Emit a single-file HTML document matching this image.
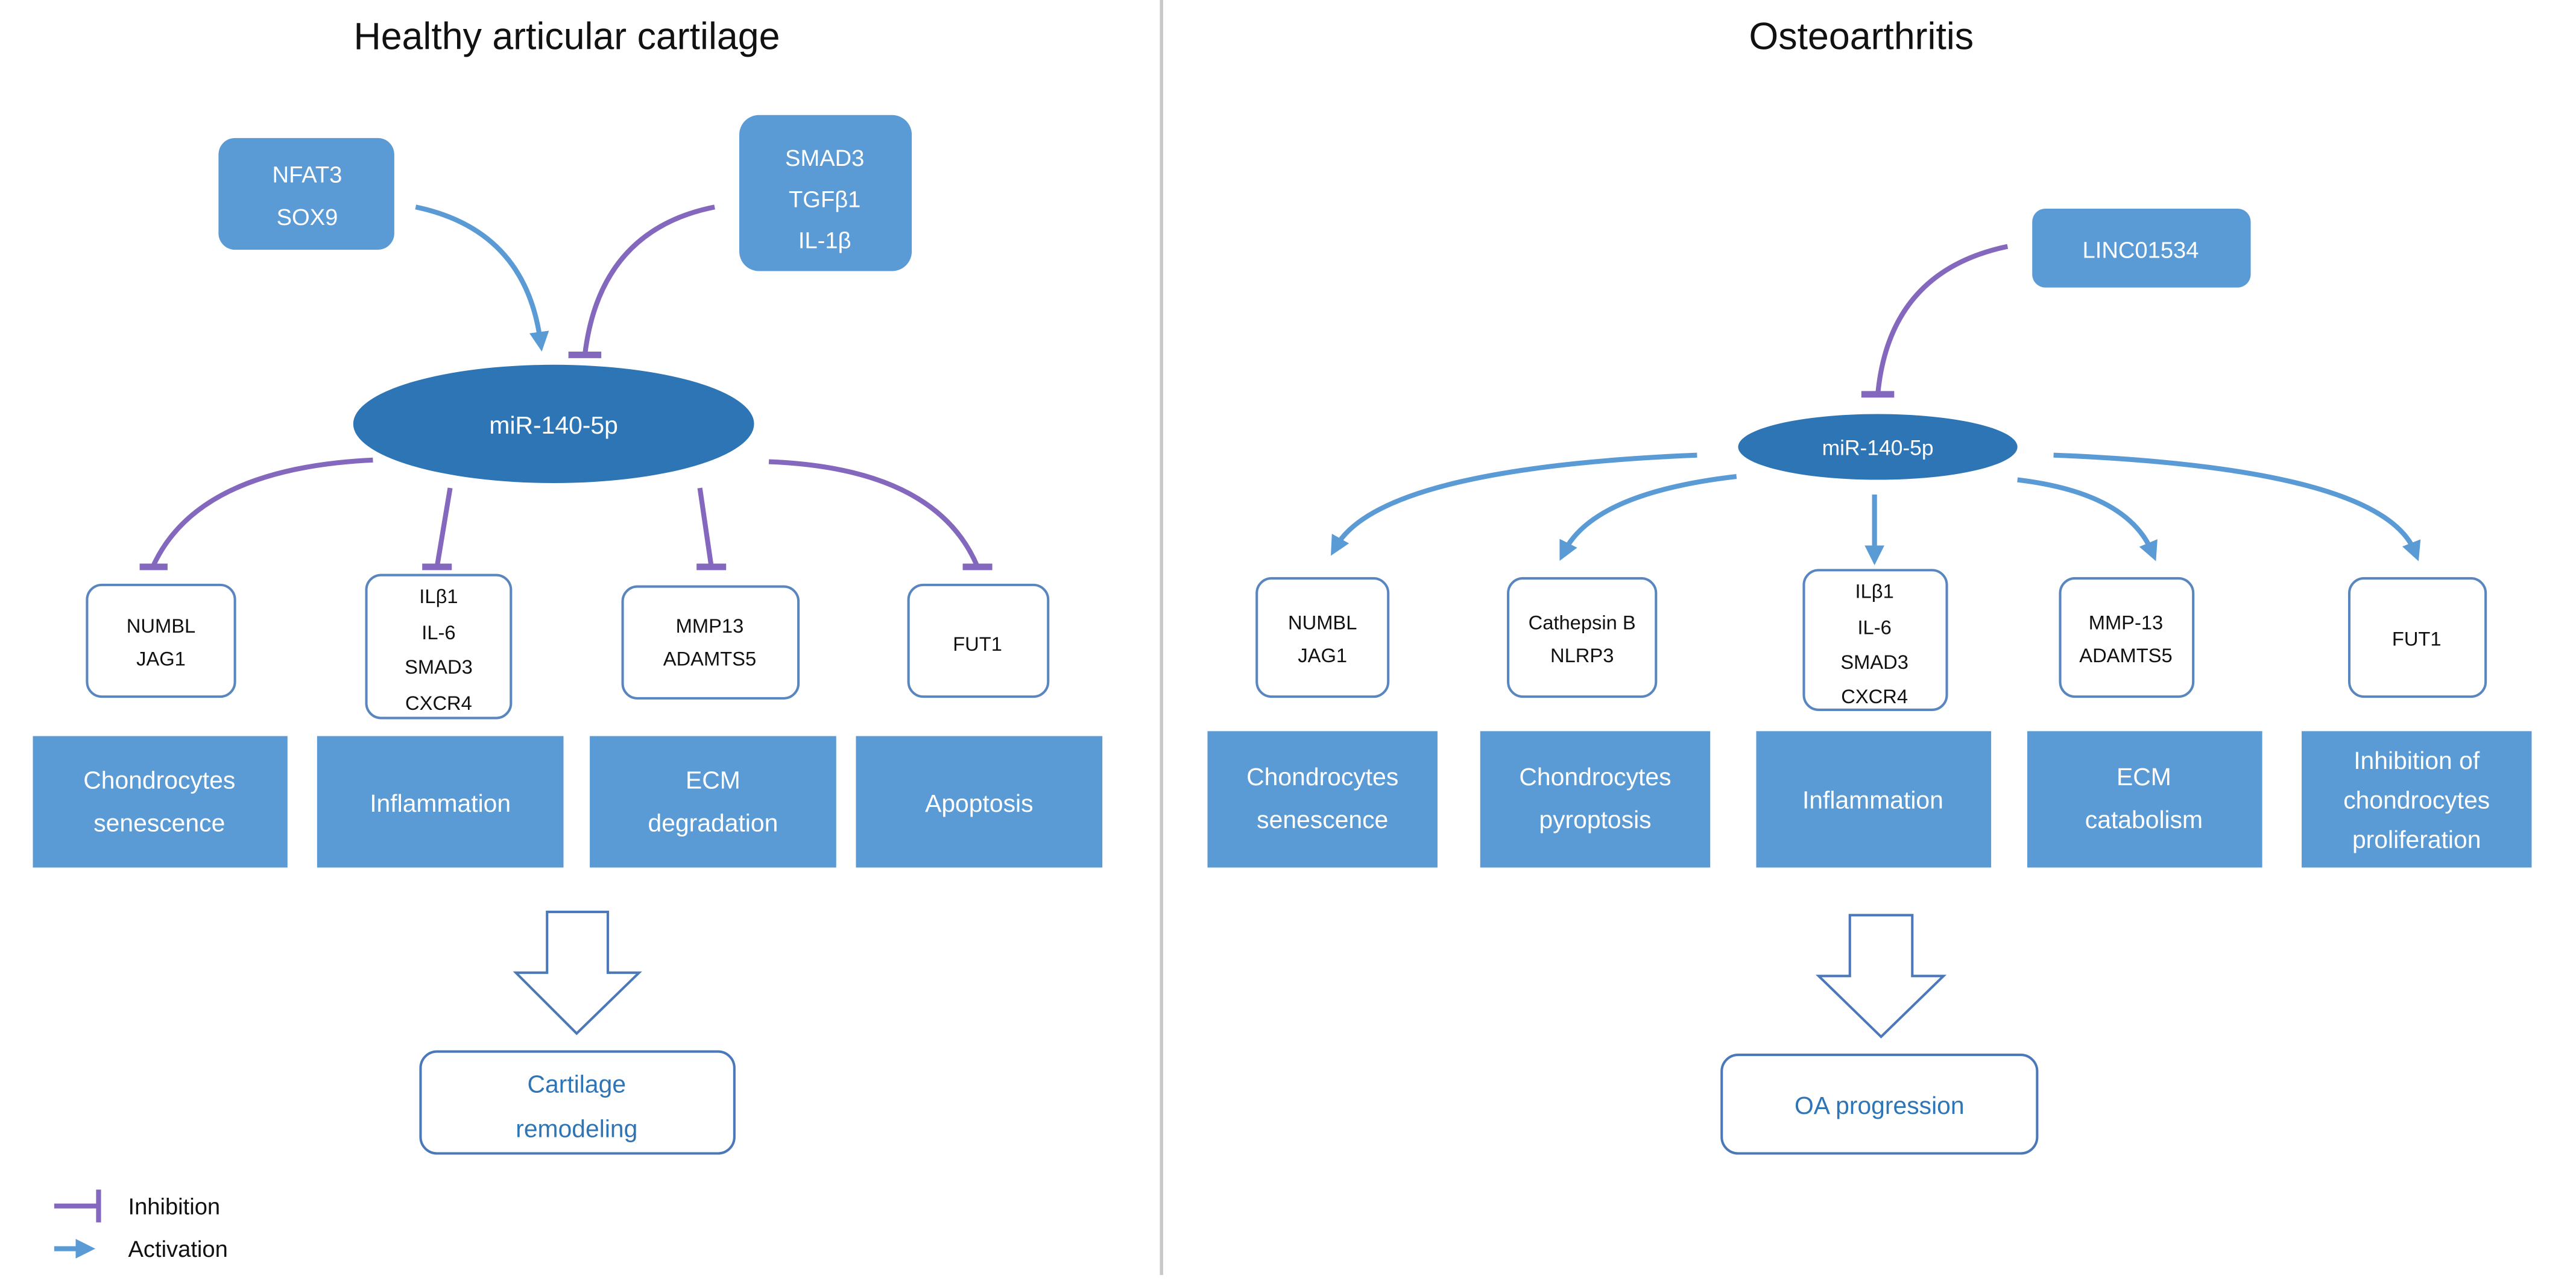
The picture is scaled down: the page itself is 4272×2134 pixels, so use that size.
<!DOCTYPE html>
<html><head><meta charset="utf-8"><style>
html,body{margin:0;padding:0;background:#fff;}
svg{display:block;}
text{font-family:"Liberation Sans",sans-serif;}
</style></head><body>
<svg width="4272" height="2134" viewBox="0 0 1568 783.3" preserveAspectRatio="none" xmlns="http://www.w3.org/2000/svg">
<defs>
<marker id="ab" viewBox="0 0 10 10" refX="5" refY="5" markerWidth="4" markerHeight="4" orient="auto"><path d="M0,0 L10,5 L0,10 z" fill="#5b9bd5"/></marker>
</defs>
<rect width="1568" height="783.3" fill="#fff"/>
<line x1="707" y1="0" x2="707" y2="776" stroke="#c8c8c8" stroke-width="2"/>
<text x="345" y="30" font-size="23" text-anchor="middle" fill="#111">Healthy articular cartilage</text>
<text x="1133" y="30" font-size="23" text-anchor="middle" fill="#111">Osteoarthritis</text>

<rect x="133" y="84" width="107" height="68" rx="10" fill="#5b9bd5"/>
<text x="187" y="111" font-size="14" fill="#fff" text-anchor="middle">NFAT3</text>
<text x="187" y="137" font-size="14" fill="#fff" text-anchor="middle">SOX9</text>
<rect x="450" y="70" width="105" height="95" rx="12" fill="#5b9bd5"/>
<text x="502" y="101" font-size="14" fill="#fff" text-anchor="middle">SMAD3</text>
<text x="502" y="126" font-size="14" fill="#fff" text-anchor="middle">TGFβ1</text>
<text x="502" y="151" font-size="14" fill="#fff" text-anchor="middle">IL-1β</text>

<g fill="none" stroke-width="3">
<path d="M253,126 Q320,140 329,208" stroke="#5b9bd5" marker-end="url(#ab)"/>
<path d="M435,126 Q365,140 356,216" stroke="#8468be"/>
<line x1="346" y1="216" x2="366" y2="216" stroke="#8468be" stroke-width="4"/>
</g>
<ellipse cx="337" cy="258" rx="122" ry="36" fill="#2e75b6"/>
<text x="337" y="264" font-size="15" fill="#fff" text-anchor="middle">miR-140-5p</text>

<g fill="none" stroke="#8468be" stroke-width="3">
<path d="M227,280 Q120,285 93,345"/>
<line x1="85" y1="345" x2="102" y2="345" stroke-width="4"/>
<path d="M274,297 L266,345"/>
<line x1="257" y1="345" x2="275" y2="345" stroke-width="4"/>
<path d="M426,297 L433,345"/>
<line x1="424" y1="345" x2="442" y2="345" stroke-width="4"/>
<path d="M468,281 Q570,285 595,345"/>
<line x1="586" y1="345" x2="604" y2="345" stroke-width="4"/>
</g>

<g fill="#fff" stroke="#5a86c0" stroke-width="1.5">
<rect x="53" y="356" width="90" height="68" rx="9"/>
<rect x="223" y="350" width="88" height="87" rx="9"/>
<rect x="379" y="357" width="107" height="68" rx="9"/>
<rect x="553" y="356" width="85" height="68" rx="9"/>
</g>
<g font-size="12" fill="#111" text-anchor="middle">
<text x="98" y="385">NUMBL</text><text x="98" y="405">JAG1</text>
<text x="267" y="367">ILβ1</text><text x="267" y="389">IL-6</text><text x="267" y="410">SMAD3</text><text x="267" y="432">CXCR4</text>
<text x="432" y="385">MMP13</text><text x="432" y="405">ADAMTS5</text>
<text x="595" y="396">FUT1</text>
</g>

<g fill="#5b9bd5">
<rect x="20" y="448" width="155" height="80"/>
<rect x="193" y="448" width="150" height="80"/>
<rect x="359" y="448" width="150" height="80"/>
<rect x="521" y="448" width="150" height="80"/>
<rect x="735" y="445" width="140" height="83"/>
<rect x="901" y="445" width="140" height="83"/>
<rect x="1069" y="445" width="143" height="83"/>
<rect x="1234" y="445" width="143" height="83"/>
<rect x="1401" y="445" width="140" height="83"/>
</g>
<g font-size="15" fill="#fff" text-anchor="middle">
<text x="97" y="480">Chondrocytes</text><text x="97" y="506">senescence</text>
<text x="268" y="494">Inflammation</text>
<text x="434" y="480">ECM</text><text x="434" y="506">degradation</text>
<text x="596" y="494">Apoptosis</text>
<text x="805" y="478">Chondrocytes</text><text x="805" y="504">senescence</text>
<text x="971" y="478">Chondrocytes</text><text x="971" y="504">pyroptosis</text>
<text x="1140" y="492">Inflammation</text>
<text x="1305" y="478">ECM</text><text x="1305" y="504">catabolism</text>
<text x="1471" y="468">Inhibition of</text><text x="1471" y="492">chondrocytes</text><text x="1471" y="516">proliferation</text>
</g>

<path d="M333,555 L370,555 L370,592 L389,592 L351,629 L314,592 L333,592 Z" fill="#fff" stroke="#4a78b8" stroke-width="1.5"/>
<rect x="256" y="640" width="191" height="62" rx="10" fill="#fff" stroke="#4a78b8" stroke-width="1.5"/>
<text x="351" y="665" font-size="15" fill="#2e75b6" text-anchor="middle">Cartilage</text>
<text x="351" y="692" font-size="15" fill="#2e75b6" text-anchor="middle">remodeling</text>

<rect x="1237" y="127" width="133" height="48" rx="8" fill="#5b9bd5"/>
<text x="1303" y="157" font-size="14" fill="#fff" text-anchor="middle">LINC01534</text>
<path d="M1222,150 Q1150,165 1143,240" fill="none" stroke="#8468be" stroke-width="3"/>
<line x1="1133" y1="240" x2="1153" y2="240" stroke="#8468be" stroke-width="4"/>
<ellipse cx="1143" cy="272" rx="85" ry="20" fill="#2e75b6"/>
<text x="1143" y="277" font-size="13" fill="#fff" text-anchor="middle">miR-140-5p</text>
<g fill="none" stroke="#5b9bd5" stroke-width="3" marker-end="url(#ab)">
<path d="M1033,277 Q840,285 813,333"/>
<path d="M1057,290 Q970,300 952,336"/>
<path d="M1141,301 L1141,338"/>
<path d="M1228,292 Q1295,300 1310,336"/>
<path d="M1250,277 Q1450,285 1470,336"/>
</g>
<g fill="#fff" stroke="#5a86c0" stroke-width="1.5">
<rect x="765" y="352" width="80" height="72" rx="9"/>
<rect x="918" y="352" width="90" height="72" rx="9"/>
<rect x="1098" y="347" width="87" height="85" rx="9"/>
<rect x="1254" y="352" width="81" height="72" rx="9"/>
<rect x="1430" y="352" width="83" height="72" rx="9"/>
</g>
<g font-size="12" fill="#111" text-anchor="middle">
<text x="805" y="383">NUMBL</text><text x="805" y="403">JAG1</text>
<text x="963" y="383">Cathepsin B</text><text x="963" y="403">NLRP3</text>
<text x="1141" y="364">ILβ1</text><text x="1141" y="386">IL-6</text><text x="1141" y="407">SMAD3</text><text x="1141" y="428">CXCR4</text>
<text x="1294" y="383">MMP-13</text><text x="1294" y="403">ADAMTS5</text>
<text x="1471" y="393">FUT1</text>
</g>
<path d="M1126,557 L1164,557 L1164,594 L1183,594 L1145,631 L1107,594 L1126,594 Z" fill="#fff" stroke="#4a78b8" stroke-width="1.5"/>
<rect x="1048" y="642" width="192" height="60" rx="10" fill="#fff" stroke="#4a78b8" stroke-width="1.5"/>
<text x="1144" y="678" font-size="15" fill="#2e75b6" text-anchor="middle">OA progression</text>

<line x1="33" y1="734" x2="60" y2="734" stroke="#8468be" stroke-width="3"/>
<line x1="60" y1="724" x2="60" y2="744" stroke="#8468be" stroke-width="3"/>
<text x="78" y="739" font-size="14" fill="#111">Inhibition</text>
<line x1="33" y1="760" x2="52" y2="760" stroke="#5b9bd5" stroke-width="3" marker-end="url(#ab)"/>
<text x="78" y="765" font-size="14" fill="#111">Activation</text>
</svg>
</body></html>
